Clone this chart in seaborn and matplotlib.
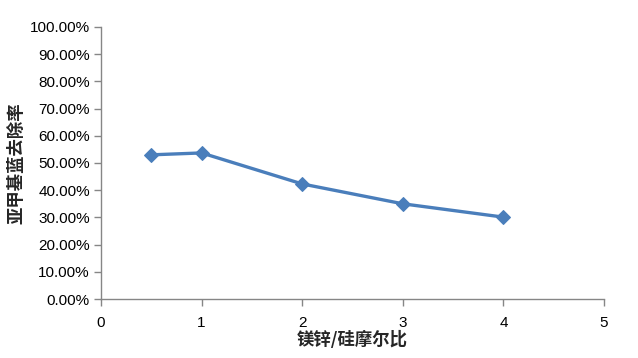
import matplotlib
matplotlib.use("Agg")
import matplotlib.pyplot as plt
import seaborn as sns
import pandas as pd
from matplotlib.ticker import FuncFormatter

ratio = [0.5, 1, 2, 3, 4]
removal = [0.530, 0.537, 0.423, 0.350, 0.301]
x_label = "镁锌/硅摩尔比"
y_label = "亚甲基蓝去除率"

sns.set_theme(style="white")
plt.rcParams['font.family'] = ['Liberation Sans', 'Noto Sans CJK SC', 'DejaVu Sans']

df = pd.DataFrame({"ratio": ratio, "removal": removal})

fig = plt.figure(figsize=(6.38, 3.58), dpi=100)
ax = fig.add_axes([0.1583, 0.1648, 0.7884, 0.7598])
sns.lineplot(data=df, x="ratio", y="removal", ax=ax, color="#4A7EBB",
             linewidth=2.4, marker="D", markersize=7, markeredgecolor="#4A7EBB")

ax.set_xlim(0, 5)
ax.set_ylim(0, 1.0)
ax.set_xticks([0, 1, 2, 3, 4, 5])
ax.set_yticks([i / 10 for i in range(11)])
ax.yaxis.set_major_formatter(FuncFormatter(lambda v, p: f"{v*100:.2f}%"))

for s in ["top", "right"]:
    ax.spines[s].set_visible(False)
for s in ["left", "bottom"]:
    ax.spines[s].set_color("#868686")
    ax.spines[s].set_linewidth(1.0)
ax.tick_params(axis="both", which="major", direction="out", length=5, width=1,
               color="#868686", labelsize=11, labelcolor="black",
               left=True, bottom=True)
ax.tick_params(axis="x", pad=7)
ax.tick_params(axis="y", pad=3)
ax.grid(False)

ax.set_xlabel(x_label, fontsize=12.5, fontweight="bold",
              family=['Noto Sans CJK SC', 'DejaVu Sans'], labelpad=1)
ax.set_ylabel(y_label, fontsize=12.5, fontweight="bold",
              family=['Noto Sans CJK SC', 'DejaVu Sans'], labelpad=3)

fig.savefig("out.png", dpi=100)
